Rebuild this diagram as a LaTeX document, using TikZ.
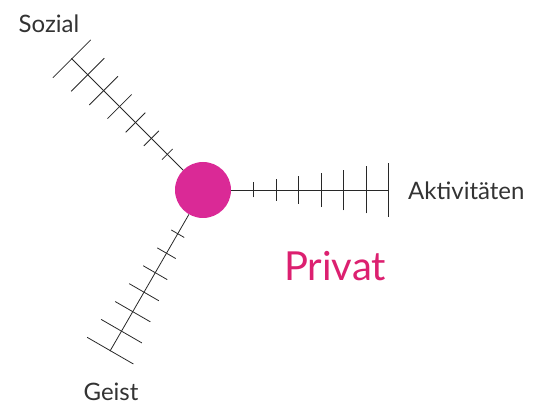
\documentclass[tikz,border=0pt]{standalone}
\usepackage{fontspec}
\setmainfont{Lato}
\usetikzlibrary{positioning,calc}
\definecolor{privatpink}{RGB}{218,41,150}
\definecolor{privattext}{RGB}{220,32,112}
\definecolor{axisgrey}{RGB}{40,40,40}

\begin{document}
\begin{tikzpicture}[x=1pt,y=1pt]
  \useasboundingbox (0,0) rectangle (551,414);
  \tikzset{
    axisline/.style={draw=axisgrey,line width=0.8pt},
    lbl/.style={font=\fontsize{24}{27}\selectfont,text=black!80,inner sep=0pt}
  }
  % Centre dot
  \node[circle,fill=privatpink,minimum size=56pt,inner sep=0pt] (c) at (203,224) {};
  % Axes with growing ticks
  \foreach \ang/\nm in {0/akt,135/soz,240/geist}{
    \coordinate (\nm) at ($(c.center)+(\ang:186)$);
    \draw[axisline] (c) -- (\nm);
    \begin{scope}[shift={(c.center)},rotate=\ang]
      \foreach \i in {1,...,7}{
        \draw[axisline] (28+22.5*\i,-4.3-3.2*\i) -- (28+22.5*\i,4.3+3.2*\i);
      }
    \end{scope}
  }
  % Labels
  \node[lbl] (sozial) at (49,390) {Sozial};
  \node[lbl,anchor=west] (aktiv) at (408,223) {Aktivitäten};
  \node[lbl] (geist) at (111,22) {Geist};
  \node[font=\fontsize{40}{44}\selectfont,text=privattext,inner sep=0pt] (privat) at (335,148) {Privat};
\end{tikzpicture}
\end{document}
